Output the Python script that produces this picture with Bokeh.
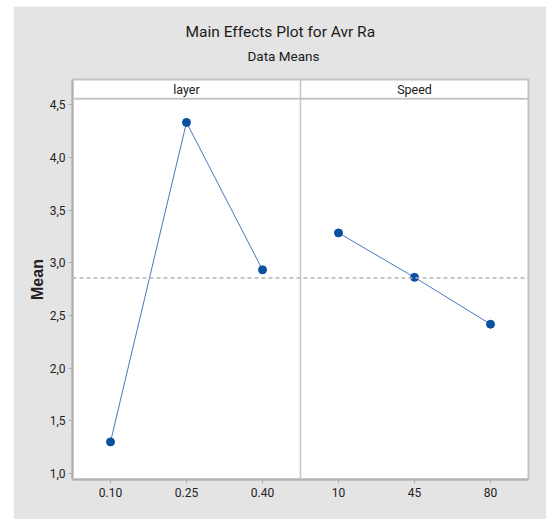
import numpy as np
from bokeh.plotting import figure
from bokeh.models import Range1d, FixedTicker, Span, Title, Spacer
from bokeh.layouts import column, row
from bokeh.core.properties import value
from bokeh.embed import file_html
from bokeh.resources import INLINE

# ---- data ----
factors = ["layer", "Speed"]
layer_levels = ["0.10", "0.25", "0.40"]
layer_means = [1.30, 4.333, 2.933]
speed_levels = ["10", "45", "80"]
speed_means = [3.284, 2.862, 2.417]
y_ticks = [1.0, 1.5, 2.0, 2.5, 3.0, 3.5, 4.0, 4.5]
y_tick_labels = ["1,0", "1,5", "2,0", "2,5", "3,0", "3,5", "4,0", "4,5"]

title_text = "Main Effects Plot for Avr Ra"
subtitle_text = "Data Means"
y_label = "Mean"

# ---- styling ----
FONT = "Roboto"
BG = "#e4e4e4"
FRAME_GRAY = "#c4c4c4"
PT_COLOR = "#0a4fa0"
LINE_COLOR = "#4a78bd"

n_layer = len(layer_levels)
n_speed = len(speed_levels)
n_total = n_layer + n_speed
x_layer = [i + 0.5 for i in range(n_layer)]
x_speed = [n_layer + i + 0.5 for i in range(n_speed)]
grand_mean = float(np.mean(layer_means + speed_means))

y_start = 0.943
data_top = 4.557
y_end = 4.74

p = figure(width=533, height=513, output_backend="svg", toolbar_location=None,
           x_range=Range1d(0, n_total), y_range=Range1d(y_start, y_end),
           min_border_left=59, min_border_right=18, min_border_top=73, min_border_bottom=40,
           title=None)
p.background_fill_color = "white"
p.border_fill_color = BG
p.outline_line_color = FRAME_GRAY
p.outline_line_width = 2
p.xgrid.visible = False
p.ygrid.visible = False

# strip header separator and panel divider
p.add_layout(Span(location=data_top, dimension="width", line_color=FRAME_GRAY, line_width=2))
p.add_layout(Span(location=n_layer, dimension="height", line_color=FRAME_GRAY, line_width=1.5))
# grand mean reference line
p.add_layout(Span(location=grand_mean, dimension="width", line_color="#b4b4b4",
                  line_width=1.5, line_dash="4 3"))

# data
p.line(x_layer, layer_means, line_color=LINE_COLOR, line_width=1)
p.line(x_speed, speed_means, line_color=LINE_COLOR, line_width=1)
p.scatter(x_layer, layer_means, size=8, fill_color=PT_COLOR, line_color=PT_COLOR)
p.scatter(x_speed, speed_means, size=8, fill_color=PT_COLOR, line_color=PT_COLOR)

# strip labels
strip_mid = (data_top + y_end) / 2
p.text(x=[n_layer / 2, n_layer + n_speed / 2], y=[strip_mid, strip_mid], text=factors,
       text_align="center", text_baseline="middle", text_font=value(FONT),
       text_font_size="12.5px", text_color="#1a1a1a")

# axes
ax = p.xaxis[0]
ax.ticker = FixedTicker(ticks=x_layer + x_speed)
ax.major_label_overrides = {x: lab for x, lab in zip(x_layer + x_speed, layer_levels + speed_levels)}
ax.major_tick_out = 4
ax.major_tick_in = 0
ax.minor_tick_out = 0
ax.minor_tick_in = 0
ax.axis_line_color = "#b0b0b0"
ax.axis_line_width = 2
ax.major_tick_line_color = "#b0b0b0"
ax.major_label_text_font = FONT
ax.major_label_text_font_size = "12px"
ax.major_label_text_color = "#222222"
ax.major_label_standoff = 4

ay = p.yaxis[0]
ay.ticker = FixedTicker(ticks=y_ticks)
ay.major_label_overrides = {t: lab for t, lab in zip(y_ticks, y_tick_labels)}
ay.major_tick_out = 4
ay.major_tick_in = 0
ay.minor_tick_out = 0
ay.minor_tick_in = 0
ay.axis_line_color = "#b0b0b0"
ay.axis_line_width = 2
ay.major_tick_line_color = "#b0b0b0"
ay.major_label_text_font = FONT
ay.major_label_text_font_size = "12px"
ay.major_label_text_color = "#222222"
ay.major_label_standoff = 3
ay.axis_label = y_label
ay.axis_label_text_font = "Liberation Sans"
ay.axis_label_text_font_style = "bold"
ay.axis_label_text_font_size = "16px"
ay.axis_label_text_color = "#222222"
ay.axis_label_standoff = 1

# titles: subtitle first (closest to the frame), then main title
p.add_layout(Title(text=subtitle_text, align="left", offset=175, standoff=31,
                   text_font=FONT, text_font_size="13.5px", text_font_style="normal",
                   text_color="#1a1a1a"), "above")
p.add_layout(Title(text=title_text, align="left", offset=113, standoff=-20,
                   text_font=FONT, text_font_size="15.5px", text_font_style="normal",
                   text_color="#1a1a1a"), "above")

layout = column(Spacer(height=6, width=546), row(Spacer(width=13, height=513), p))
open("out.html", "w").write(file_html(layout, INLINE))
